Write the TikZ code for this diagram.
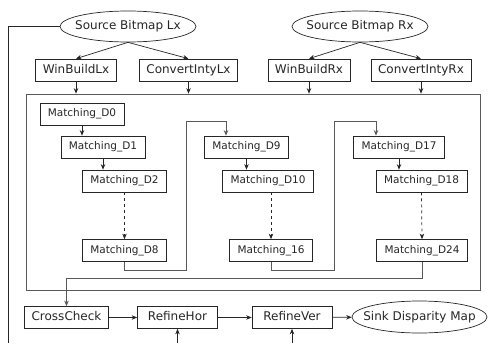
\documentclass[tikz,border=0pt]{standalone}
\usepackage{fontspec}
\setmainfont{DejaVu Sans}
\usepackage{xcolor}
\usepackage{tikz}
\usetikzlibrary{shapes.geometric,arrows.meta}

\begin{document}
\begin{tikzpicture}[x=1pt, y=-1pt,
  proc/.style={draw=\edgecolor, text=\inkcolor, line width=0.7pt, inner xsep=7pt, inner ysep=0pt,
    minimum height=22pt, text height=9pt, text depth=2.6pt, font=\bigfont},
  bottomproc/.style={proc, minimum width=80pt},
  matchbox/.style={proc, inner xsep=8pt, font=\smallfont, text height=8pt, text depth=2.5pt},
  srcsink/.style={ellipse, draw=\edgecolor, text=\inkcolor, line width=0.7pt, inner xsep=-15pt, inner ysep=-15pt,
    minimum width=136pt, minimum height=31pt, text height=9pt, text depth=2.6pt, font=\bigfont},
  matchframe/.style={draw=\framecolor, line width=0.7pt, inner sep=0pt, minimum width=454pt, minimum height=196pt},
  arr/.style={-{Stealth[length=5.5pt,width=4.5pt]}, draw=\edgecolor, line width=0.7pt},
  looparr/.style={arr, draw=\framecolor},
  wire/.style={draw=\edgecolor, line width=0.7pt}
]
\def\edgecolor{black!85}
\def\framecolor{black!65}
\def\inkcolor{black!85}
\def\bigfont{\fontsize{12}{14}\selectfont}
\def\smallfont{\fontsize{10.5}{12.5}\selectfont}
\useasboundingbox (0,0) rectangle (489,343);

% FIRST ROW
\node[srcsink] (srcL) at (128, 26.5) {Source Bitmap Lx};
\node[srcsink] (srcR) at (360, 26.5) {Source Bitmap Rx};

% SECOND ROW
\node[proc] (winL) at (76, 70) {WinBuildLx};
\node[proc] (cvtL) at (188.5, 70) {ConvertIntyLx};
\node[proc] (winR) at (309, 70) {WinBuildRx};
\node[proc] (cvtR) at (421, 70) {ConvertIntyRx};

\draw[arr] (srcL.south) -- (winL.north);
\draw[arr] (srcL.south) -- (cvtL.north);
\draw[arr] (srcR.south) -- (winR.north);
\draw[arr] (srcR.south) -- (cvtR.north);

% MATCHING BLOCK
\node[matchframe] (match) at (253, 192) {};
\draw[arr] (winL.south) -- (winL.south |- match.north);
\draw[arr] (cvtL.south) -- (cvtL.south |- match.north);
\draw[arr] (winR.south) -- (winR.south |- match.north);
\draw[arr] (cvtR.south) -- (cvtR.south |- match.north);

\begin{scope} % FIRST COLUMN
\node[matchbox] (D0) at (82, 114) {Matching\_D0};
\node[matchbox] (D1) at (103, 147) {Matching\_D1};
\node[matchbox] (D2) at (124.5, 181) {Matching\_D2};
\node[matchbox] (D8) at (124.5, 250.5) {Matching\_D8};
\draw[arr] (D0.south) -- (D0.south |- D1.north);
\draw[arr] (D1.south) -- (D1.south |- D2.north);
\draw[arr, dashed] (D2.south) -- (D8.north);
\end{scope}

\begin{scope} % SECOND COLUMN
\node[matchbox] (D9) at (246.5, 147) {Matching\_D9};
\node[matchbox] (D10) at (268, 181) {Matching\_D10};
\node[matchbox] (M16) at (271, 250.5) {Matching\_16};
\draw[arr] (D9.south) -- (D9.south |- D10.north);
\draw[arr, dashed] (D10.south -| M16.north) -- (M16.north);
\end{scope}

\begin{scope} % THIRD COLUMN
\node[matchbox] (D17) at (399, 147) {Matching\_D17};
\node[matchbox] (D18) at (421.5, 181) {Matching\_D18};
\node[matchbox] (D24) at (422, 250.5) {Matching\_D24};
\draw[arr] (D17.south) -- (D17.south |- D18.north);
\draw[arr, dashed] (D18.south) -- (D24.north);
\end{scope}

\coordinate (highA) at (186, 121);
\coordinate (highB) at (334, 121);
\draw[looparr] (D8.south) -- ++(0,8.5) -| (highA) -| ([xshift=-20.5pt]D9.north);
\draw[looparr] (M16.south) -- ++(0,8.5) -| (highB) -| ([xshift=-23pt]D17.north);

% BOTTOM ROW
\node[bottomproc] (cross) at (66.5, 317.5) {CrossCheck};
\node[bottomproc] (rhor) at (177.5, 317.5) {RefineHor};
\node[bottomproc] (rver) at (292, 317.5) {RefineVer};
\node[srcsink, minimum width=135pt, minimum height=32pt] (sink) at (419.5, 317) {Sink Disparity Map};

\draw[looparr] (D24.south) -- ++(0,16.5) -| (cross.north);
\draw[arr] (cross) -- (rhor);
\draw[arr] (rhor) -- (rver);
\draw[arr] (rver) -- (sink);

\coordinate (bot) at (0, 343);
\coordinate (leftend) at (8, 343);
\draw[wire] (srcL.west) -| (leftend);
\draw[arr] (rhor.south |- bot) -- (rhor.south);
\draw[arr] (rver.south |- bot) -- (rver.south);
\end{tikzpicture}
\end{document}
